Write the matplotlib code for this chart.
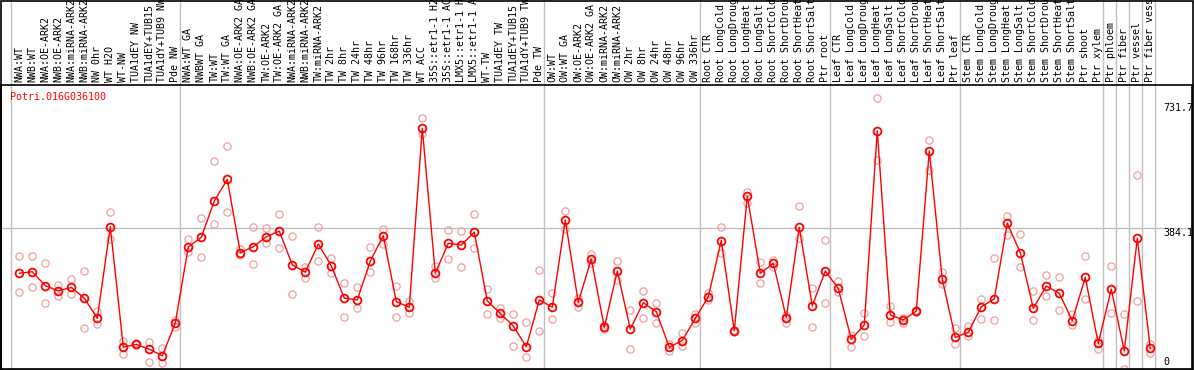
import numpy as np
import matplotlib
matplotlib.use("Agg")
import matplotlib.pyplot as plt
import matplotlib.transforms as mtransforms

gene = "Potri.016G036100"

samples = [
    "NWA:WT", "NWB:WT", "NWA:OE-ARK2", "NWB:OE-ARK2", "NWA:miRNA-ARK2", "NWB:miRNA-ARK2",
    "NW 0hr", "WT H2O", "WT-NW", "TUA1dEY NW", "TUA1dEY+TUB15", "TUA1dY+TUB9 NW", "Pde NW",
    "NWA:WT GA", "NWBWT GA", "TW:WT", "TW:WT GA", "NWA:OE-ARK2 GA", "NWB:OE-ARK2 GA",
    "TW:OE-ARK2", "TW:OE-ARK2 GA", "NWA:miRNA-ARK2", "NWB:miRNA-ARK2", "TW:miRNA-ARK2",
    "TW 2hr", "TW 8hr", "TW 24hr", "TW 48hr", "TW 96hr", "TW 168hr", "TW 336hr", "WT ACC",
    "35S::etr1-1 H2", "35S::etr1-1 AC", "LMX5::etr1-1 H", "LMX5::etr1-1 A", "WT-TW",
    "TUA1dEY TW", "TUA1dEY+TUB15", "TUA1dY+TUB9 TW", "Pde TW",
    "OW:WT", "OW:WT GA", "OW:OE-ARK2", "OW:OE-ARK2 GA", "OW:miRNA-ARK2", "OW:miRNA-ARK2",
    "OW 2hr", "OW 8hr", "OW 24hr", "OW 48hr", "OW 96hr", "OW 336hr",
    "Root CTR", "Root LongCold", "Root LongDroug", "Root LongHeat", "Root LongSalt",
    "Root ShortCold", "Root ShortDrou", "Root ShortHeat", "Root ShortSalt", "Ptr root",
    "Leaf CTR", "Leaf LongCold", "Leaf LongDroug", "Leaf LongHeat", "Leaf LongSalt",
    "Leaf ShortCold", "Leaf ShortDrou", "Leaf ShortHeat", "Leaf ShortSalt", "Ptr leaf",
    "Stem CTR", "Stem LongCold", "Stem LongDroug", "Stem LongHeat", "Stem LongSalt",
    "Stem ShortCold", "Stem ShortDrou", "Stem ShortHeat", "Stem ShortSalt", "Ptr shoot",
    "Ptr xylem", "Ptr phloem", "Ptr fiber", "Ptr vessel", "Ptr fiber vessel",
]

mean_expr = [
    255, 259, 219, 204, 214, 183, 125, 389, 42, 50, 36, 17, 111,
    331, 358, 463, 525, 314, 331, 360, 376, 279, 258, 339, 276, 183, 178, 290, 363,
    173, 157, 672, 255, 341, 336, 373, 175, 139, 103, 43, 178,
    157, 408, 171, 296, 99, 261, 94, 170, 144, 42, 61, 125,
    187, 349, 89, 477, 255, 283, 127, 387, 161, 261,
    211, 65, 106, 665, 135, 120, 146, 607, 237, 70,
    85, 158, 181, 399, 314, 154, 218, 197, 118, 243, 53,
    209, 31, 355, 39,
]

rep_high = [
    305, 305, 283, 221, 238, 262, 146, 430, 60, 53, 58, 39, 120,
    353, 413, 578, 621, 324, 387, 384, 425, 362, 274, 387, 300, 226, 214, 330, 382,
    218, 175, 701, 276, 379, 376, 425, 209, 156, 137, 115, 264,
    197, 434, 183, 309, 106, 290, 149, 204, 168, 50, 82, 137,
    197, 387, 92, 490, 288, 293, 135, 448, 211, 351,
    232, 77, 141, 759, 160, 127, 150, 639, 258, 98,
    104, 180, 298, 420, 368, 204, 250, 243, 137, 304, 63,
    275, 137, 538, 50,
]

rep_low = [
    202, 214, 168, 189, 195, 96, 108, 352, 21, 47, 0, -5, 101,
    315, 302, 396, 430, 307, 280, 341, 327, 194, 242, 290, 255, 128, 154, 258, 338,
    128, 139, 655, 242, 295, 272, 328, 137, 125, 45, 14, 89,
    122, 382, 158, 283, 94, 235, 36, 125, 112, 31, 46, 112,
    178, 312, 86, 458, 226, 274, 111, 357, 99, 168,
    202, 42, 75, 581, 115, 111, 142, 552, 223, 51,
    74, 122, 120, 365, 274, 120, 189, 149, 106, 180, 37,
    141, -21, 175, 24,
]

# last sample index of each block, grey separators are drawn just right of them
block_ends = [-1, 12, 40, 52, 62, 72, 83, 84, 85, 86, 87]

W, H = 1194, 370
fig = plt.figure(figsize=(W / 100, H / 100), dpi=100)
ax = fig.add_axes([1 / W, 1 / H, 1191 / W, 284 / H])

x = np.arange(len(samples))
ax.set_xlim(-1.408, 90.21)
ax.set_ylim(-21, 797)

mono = "DejaVu Sans Mono"
grid_c = "#c0c0c0"

for b in block_ends:
    ax.axvline(b + 0.36, ymin=0, ymax=1.3, color=grid_c, lw=1.0, clip_on=False, zorder=0)
ax.axhline(384.1, color=grid_c, lw=1.0, zorder=0)

ax.plot(x, rep_high, "o", ms=5.2, mfc="none", mec="#eea0a0", mew=0.9, zorder=2)
ax.plot(x, rep_low, "o", ms=5.2, mfc="none", mec="#eea0a0", mew=0.9, zorder=2)
ax.plot(x, mean_expr, "-", color="#ff0000", lw=1.0, zorder=3)
ax.plot(x, mean_expr, "o", ms=5.6, mfc="none", mec="#ff0000", mew=1.3, zorder=4)

ax.set_xticks([])
ax.set_yticks([])
for s in ax.spines.values():
    s.set_color("black")
    s.set_linewidth(1.2)

# sample names above the plot
trans = mtransforms.blended_transform_factory(ax.transData, fig.transFigure)
for i, name in enumerate(samples):
    ax.text(i, (H - 82) / H, name, rotation=90, ha="center", va="bottom",
            family=mono, fontsize=7.2, color="black", transform=trans, clip_on=False)

# scale values on the right
ax.text(87.98, 731.7, "731.7", ha="left", va="center", family=mono, fontsize=7.2)
ax.text(87.98, 384.1, "384.1", ha="left", va="top", family=mono, fontsize=7.2)
ax.text(87.98, 0, "0", ha="left", va="center", family=mono, fontsize=7.2)

ax.text(9.3 / 1191, 1 - 12 / 284, gene, ha="left", va="center", family=mono,
        fontsize=7.2, color="#ff0000", transform=ax.transAxes)

# outer border around the whole picture
fig.patches.append(plt.Rectangle((0.5 / W, 0.5 / H), (W - 1.5) / W, (H - 1.5) / H,
                                 transform=fig.transFigure, fill=False,
                                 edgecolor="black", lw=1.2))

fig.savefig("out.png", dpi=100)
